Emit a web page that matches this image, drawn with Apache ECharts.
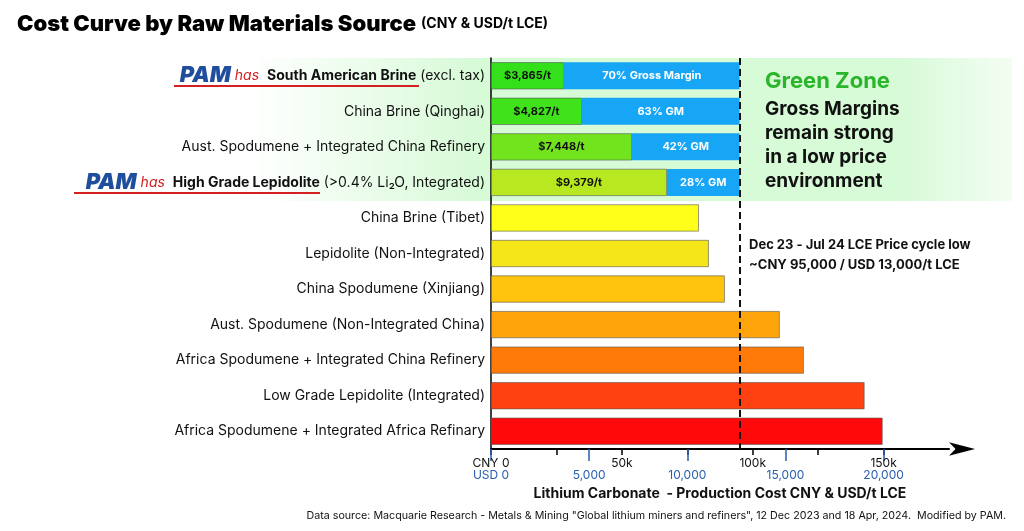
<!DOCTYPE html>
<html><head><meta charset="utf-8">
<script src="https://cdn.jsdelivr.net/npm/echarts@6/dist/echarts.min.js"></script>
<style>html,body{margin:0;background:#fff}#c{width:1024px;height:531px}</style>
</head><body><div id="c"></div>
<script>
const categories = ["South American Brine","China Brine (Qinghai)","Aust. Spodumene + Integrated China Refinery","High Grade Lepidolite","China Brine (Tibet)","Lepidolite (Non-Integrated)","China Spodumene (Xinjiang)","Aust. Spodumene (Non-Integrated China)","Africa Spodumene + Integrated China Refinery","Low Grade Lepidolite (Integrated)","Africa Spodumene + Integrated Africa Refinary"];
const costCNY = [27900, 34700, 53800, 67200, 79400, 83200, 89300, 110300, 119500, 142700, 149600];
const costLabels = ["$3,865/t","$4,827/t","$7,448/t","$9,379/t","","","","","","",""];
const marginLabels = ["70% Gross Margin","63% GM","42% GM","28% GM"];
const priceLow = 95000;
const barColors = ["#33e01a","#40e21c","#72e41e","#b8e81f","#ffff1a","#f5e61a","#ffc40e","#ffa40a","#ff7a08","#ff4010","#ff0a0a"];
const cnyTicks = {0:"CNY 0",50000:"50k",100000:"100k",150000:"150k"};
const usdRate = 7.5;

const font = "Inter, 'Noto Sans', sans-serif";
const marginVals = costCNY.map((v,i)=> i<4 ? priceLow - v : null);
const chart = echarts.init(document.getElementById('c'));
const richY = {
  pam:{color:'#1f4e9c',fontWeight:900,fontStyle:'italic',fontSize:22,fontFamily:font,padding:[0,4,0,0]},
  has:{color:'#d42020',fontStyle:'italic',fontSize:14,fontFamily:font,padding:[0,8,0,0]},
  b:{color:'#111',fontWeight:'bold',fontSize:14,fontFamily:font},
  n:{color:'#111',fontSize:14,fontFamily:font}
};
chart.setOption({
  animation:false,
  title:{text:'{t|Cost Curve by Raw Materials Source} {s|(CNY & USD/t LCE)}',left:12,top:8,
    textStyle:{rich:{t:{fontSize:22,fontWeight:900,color:'#000',fontFamily:font},s:{fontSize:14,fontWeight:'bold',color:'#000',fontFamily:font}}}},
  grid:{left:491,top:58,right:75,bottom:82},
  xAxis:[{type:'value',min:0,max:175000,interval:25000,position:'bottom',
    axisLine:{show:true,lineStyle:{color:'#000',width:2},symbol:['none','arrow'],symbolSize:[10,26],symbolOffset:[0,26]},
    axisTick:{show:true,length:6,lineStyle:{color:'#000',width:1.5}},
    splitLine:{show:false},
    axisLabel:{formatter:v=>cnyTicks[v]||'',color:'#111',fontSize:12,fontFamily:font,margin:8,showMaxLabel:false},
    name:'Lithium Carbonate  - Production Cost CNY & USD/t LCE',nameLocation:'middle',nameGap:38,
    nameTextStyle:{fontSize:14,fontWeight:'bold',color:'#111',fontFamily:font}},
   {type:'value',min:0,max:175000/usdRate,interval:5000,position:'bottom',offset:0,
    axisLine:{show:false},axisTick:{show:true,length:12,lineStyle:{color:'#2a5db0',width:1.5}},
    splitLine:{show:false},
    axisLabel:{formatter:v=>v===0?'USD 0':(v<=20000?v.toLocaleString('en-US'):''),color:'#2a5db0',fontSize:12,fontFamily:font,margin:20,showMaxLabel:false}}],
  yAxis:{type:'category',data:categories,inverse:true,
    axisLine:{lineStyle:{color:'#000',width:1.5}},axisTick:{length:5,lineStyle:{color:'#000'}},
    axisLabel:{margin:6,rich:richY,formatter:(v,i)=>{
      if(i===0) return '{pam|PAM}{has|has}{b|South American Brine}{n| (excl. tax)}';
      if(i===3) return '{pam|PAM}{has|has}{b|High Grade Lepidolite}{n| (>0.4% Li₂O, Integrated)}';
      return '{n|'+v+'}';}}},
  graphic:[
    {type:'rect',z:-10,shape:{x:250,y:58,width:762,height:143},style:{fill:new echarts.graphic.LinearGradient(0,0,1,0,[{offset:0,color:'rgba(215,250,215,0)'},{offset:0.3,color:'rgba(215,250,215,1)'},{offset:0.85,color:'rgba(215,250,215,1)'},{offset:1,color:'rgba(215,250,215,0.3)'}])}},
    {type:'line',shape:{x1:174,y1:86,x2:419,y2:86},style:{stroke:'#d42020',lineWidth:2}},
    {type:'line',shape:{x1:74,y1:193,x2:320,y2:193},style:{stroke:'#d42020',lineWidth:2}},
    {type:'text',left:765,top:70,style:{text:'Green Zone',fill:'#2ab52a',font:'bold 22px '+font}},
    {type:'text',left:765,top:97,style:{text:'Gross Margins\nremain strong\nin a low price\nenvironment',fill:'#111',font:'bold 19px '+font,lineHeight:24}},
    {type:'text',left:749,top:235,style:{text:'Dec 23 - Jul 24 LCE Price cycle low\n~CNY 95,000 / USD 13,000/t LCE',fill:'#111',font:'bold 13px '+font,lineHeight:20}},
    {type:'text',right:18,top:510,style:{text:'Data source: Macquarie Research - Metals & Mining "Global lithium miners and refiners", 12 Dec 2023 and 18 Apr, 2024.  Modified by PAM.',fill:'#111',font:'10.7px '+font}}
  ],
  series:[
    {type:'bar',stack:'s',barWidth:27,data:costCNY.map((v,i)=>({value:v,itemStyle:{color:barColors[i]}})),
     itemStyle:{borderColor:'#555',borderWidth:0.6},
     label:{show:true,position:'inside',formatter:p=>costLabels[p.dataIndex],fontSize:11,fontWeight:'bold',color:'#111',fontFamily:font},
     markLine:{silent:true,symbol:'none',label:{show:false},lineStyle:{color:'#111',type:[7,4],width:2},data:[{xAxis:priceLow}]}},
    {type:'bar',stack:'s',barWidth:27,data:marginVals,itemStyle:{color:'#17a5f5'},
     label:{show:true,position:'inside',formatter:p=>marginLabels[p.dataIndex]||'',fontSize:11,fontWeight:'bold',color:'#fff',fontFamily:font}}
  ]
});
</script></body></html>
